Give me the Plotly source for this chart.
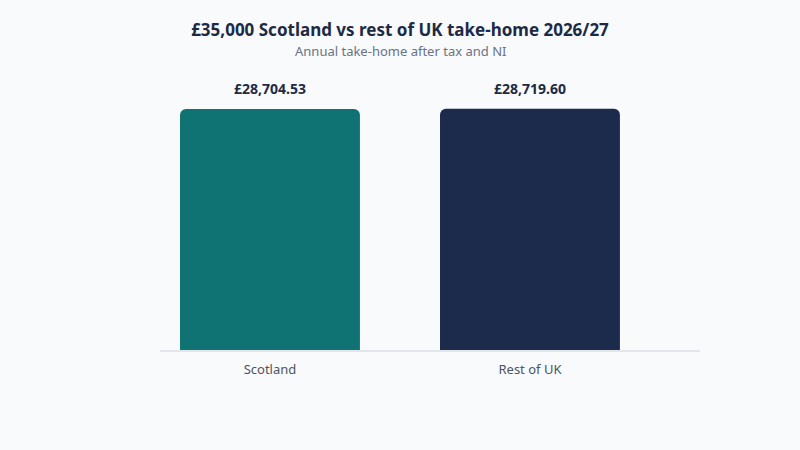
import plotly.graph_objects as go

categories = ["Scotland", "Rest of UK"]
take_home = [28704.53, 28719.60]
labels = ["£28,704.53", "£28,719.60"]
colors = ["#0f7373", "#1c2a4b"]

fig = go.Figure(go.Bar(
    x=categories, y=take_home,
    marker=dict(color=colors, line=dict(width=0)),
    width=0.692, hoverinfo="skip",
))
for c, v, t in zip(categories, take_home, labels):
    fig.add_annotation(x=c, y=v, text="<b>" + t + "</b>", showarrow=False,
                       yanchor="bottom", yshift=9,
                       font=dict(family="Noto Sans", size=14, color="#1e2a44"))

fig.add_annotation(xref="paper", yref="paper", x=(400 - 160) / 540, y=1.1865,
                   yanchor="middle", xanchor="center", showarrow=False,
                   text="Annual take-home after tax and NI",
                   font=dict(family="Noto Sans", size=13, color="#6b7280"))

fig.update_layout(
    width=800, height=450,
    paper_bgcolor="#f8fafc", plot_bgcolor="#f8fafc",
    margin=dict(l=160, r=100, t=98, b=100),
    barcornerradius=6,
    showlegend=False,
    font=dict(family="Noto Sans", color="#4b5563"),
    title=dict(
        text="<b>£35,000 Scotland vs rest of UK take-home 2026/27</b>",
        x=0.5, xanchor="center", xref="container", yref="container",
        y=1 - 30 / 450, yanchor="middle",
        font=dict(family="Noto Sans", size=17, color="#1e2a44"),
    ),
    xaxis=dict(showline=True, linecolor="#e2e5ea", linewidth=1.5, ticks="",
               range=[-0.423, 1.654], ticklabelstandoff=7,
               tickfont=dict(size=13, color="#4b5563"), showgrid=False),
    yaxis=dict(range=[0, 30000], visible=False, showgrid=False, zeroline=False),
)
fig.write_html("out.html", config={"displayModeBar": False},
               post_script="document.body.style.margin='0';document.body.style.background='#f8fafc';")
